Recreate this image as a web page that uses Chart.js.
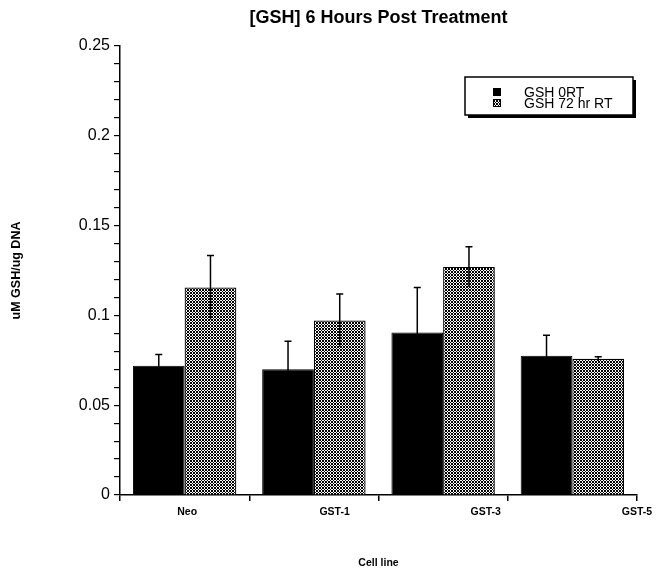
<!DOCTYPE html>
<html>
<head>
<meta charset="utf-8">
<script src="https://cdn.jsdelivr.net/npm/chart.js@4/dist/chart.umd.min.js"></script>
<style>
  html, body { margin: 0; padding: 0; background: #fff; }
  #wrap { width: 657px; height: 573px; }
</style>
</head>
<body>
<div id="wrap"><canvas id="c" width="657" height="573"></canvas></div>
<script>
// ---- data ----
const categories = ['Neo', 'GST-1', 'GST-3', 'GST-5'];
const seriesNames = ['GSH 0RT', 'GSH 72 hr RT'];
const gsh0RT = [0.072, 0.070, 0.0905, 0.0775];
const gsh0RTErr = [0.0062, 0.0156, 0.025, 0.0115];
const gsh72RT = [0.1155, 0.0972, 0.127, 0.0758];
const gsh72RTErr = [0.0178, 0.0147, 0.0112, 0.0012];
const yTickLabels = ['0', '0.05', '0.1', '0.15', '0.2', '0.25'];

const FONT = "'Liberation Sans', Arial, Helvetica, sans-serif";

// cross-hatch fill
function makePattern() {
  const t = document.createElement('canvas');
  t.width = 3; t.height = 3;
  const g = t.getContext('2d');
  g.fillStyle = '#fff';
  g.fillRect(0, 0, 3, 3);
  g.fillStyle = '#000';
  for (let x = 0; x < 3; x++) {
    for (let y = 0; y < 3; y++) {
      if ((x + y) % 3 === 0 || ((x - y) + 3) % 3 === 0) g.fillRect(x, y, 1, 1);
    }
  }
  const c = document.createElement('canvas').getContext('2d');
  return c.createPattern(t, 'repeat');
}
const hatch = makePattern();

const errorBars = {
  id: 'errorBars',
  afterDatasetsDraw(chart) {
    const ctx = chart.ctx;
    const ys = chart.scales.y;
    ctx.save();
    ctx.strokeStyle = '#000';
    ctx.lineWidth = 1.5;
    chart.data.datasets.forEach((ds, di) => {
      const meta = chart.getDatasetMeta(di);
      meta.data.forEach((bar, i) => {
        const v = ds.data[i], e = ds.errors[i];
        const yt = ys.getPixelForValue(v + e);
        const yb = ys.getPixelForValue(v - e);
        ctx.beginPath();
        ctx.moveTo(bar.x, yb);
        ctx.lineTo(bar.x, yt);
        ctx.moveTo(bar.x - 3.5, yt);
        ctx.lineTo(bar.x + 3.5, yt);
        ctx.stroke();
      });
    });
    ctx.restore();
  }
};

const catLabels = {
  id: 'catLabels',
  afterDraw(chart) {
    const ctx = chart.ctx;
    const xs = chart.scales.x;
    const cw = (xs.right - xs.left) / categories.length;
    const shift = [0.02, 0.16, 0.33, 0.5];
    ctx.save();
    ctx.fillStyle = '#000';
    ctx.font = 'bold 10.5px ' + FONT;
    ctx.textAlign = 'center';
    ctx.textBaseline = 'middle';
    categories.forEach((c, i) => {
      ctx.fillText(c, xs.getPixelForValue(i) + shift[i] * cw, 512);
    });
    ctx.restore();
  }
};

const boxLegend = {
  id: 'boxLegend',
  afterDraw(chart) {
    const ctx = chart.ctx;
    const L = 465, T = 77, W = 168, H = 38;
    ctx.save();
    ctx.fillStyle = '#000';
    ctx.fillRect(L + 3, T + 3, W, H);
    ctx.fillStyle = '#fff';
    ctx.fillRect(L, T, W, H);
    ctx.strokeStyle = '#000';
    ctx.lineWidth = 1.5;
    ctx.strokeRect(L, T, W, H);
    ctx.font = '14px ' + FONT;
    ctx.textBaseline = 'alphabetic';
    chart.data.datasets.forEach((ds, i) => {
      const base = T + 20 + i * 11;
      ctx.fillStyle = ds.backgroundColor;
      ctx.fillRect(493, base - 9, 8, 8);
      ctx.strokeStyle = '#000';
      ctx.lineWidth = 1;
      ctx.strokeRect(493.5, base - 8.5, 7, 7);
      ctx.fillStyle = '#000';
      ctx.fillText(ds.label, 524, base);
    });
    ctx.restore();
  }
};

new Chart(document.getElementById('c'), {
  type: 'bar',
  data: {
    labels: categories,
    datasets: [
      { label: seriesNames[0], data: gsh0RT, errors: gsh0RTErr,
        backgroundColor: '#000', borderColor: '#000', borderWidth: 1 },
      { label: seriesNames[1], data: gsh72RT, errors: gsh72RTErr,
        backgroundColor: hatch, borderColor: '#000', borderWidth: 1.2 }
    ]
  },
  options: {
    responsive: false,
    animation: false,
    devicePixelRatio: 1,
    layout: { padding: { left: 0, right: 20, top: 0, bottom: 0 } },
    datasets: { bar: { categoryPercentage: 0.8, barPercentage: 1.0 } },
    plugins: {
      legend: { display: false },
      tooltip: { enabled: false },
      title: {
        display: true,
        text: '[GSH] 6 Hours Post Treatment',
        fullSize: false,
        color: '#000',
        font: { family: FONT, size: 18, weight: 'bold', lineHeight: 1.2 },
        padding: { top: 7.2, bottom: 17.2 }
      }
    },
    scales: {
      x: {
        offset: true,
        grid: { offset: true, drawOnChartArea: false, drawTicks: true, tickLength: 6, color: '#000', lineWidth: 1.5 },
        border: { display: true, color: '#000', width: 1.5 },
        ticks: { display: false },
        title: {
          display: true, text: 'Cell line', color: '#000',
          font: { family: FONT, size: 10.5, weight: 'bold', lineHeight: 1.2 },
          padding: { top: 0, bottom: 4 }
        },
        afterFit(s) { s.height = 78; }
      },
      y: {
        min: 0, max: 0.25,
        grid: { drawOnChartArea: false, drawTicks: true, tickLength: 6, color: '#000', lineWidth: 1.2 },
        border: { display: true, color: '#000', width: 1.5 },
        ticks: {
          stepSize: 0.01, autoSkip: false, padding: 4, color: '#000',
          font: { family: FONT, size: 16 },
          callback(v) {
            const r = Math.round(v * 100);
            return r % 5 === 0 ? yTickLabels[r / 5] : '';
          }
        },
        title: {
          display: true, text: 'uM GSH/ug DNA', color: '#000',
          font: { family: FONT, size: 12.5, weight: 'bold', lineHeight: 1.2 },
          padding: { top: 9, bottom: 0 }
        },
        afterFit(s) { s.width = 120; }
      }
    }
  },
  plugins: [errorBars, catLabels, boxLegend]
});
</script>
</body>
</html>
